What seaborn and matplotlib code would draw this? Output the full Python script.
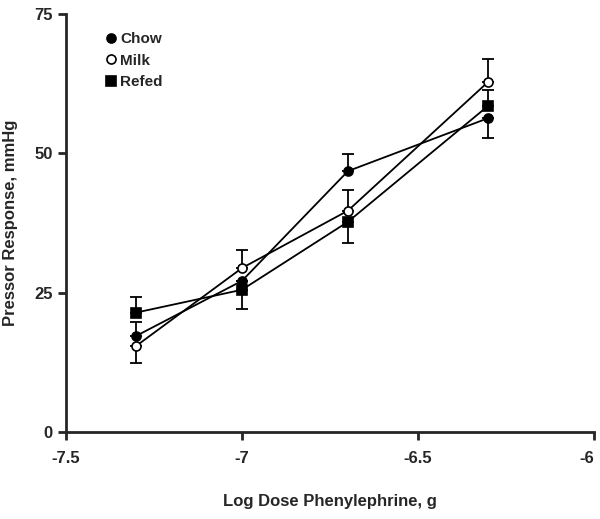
import numpy as np
import pandas as pd
from matplotlib import pyplot as plt
import seaborn as sns

# log dose of phenylephrine (5e-8, 1e-7, 2e-7, 5e-7 g)
log_dose = [-7.301, -7.0, -6.699, -6.301]

chow = [17.2, 27.1, 46.8, 56.3]
milk = [15.4, 29.4, 39.7, 62.8]
refed = [21.4, 25.5, 37.7, 58.5]

# error bars (only one side is drawn in the original)
chow_err_lo = [0, 0, 0, 3.5]
chow_err_hi = [2.6, 0, 3.1, 0]
milk_err_lo = [3.0, 0, 0, 0]
milk_err_hi = [0, 3.3, 3.7, 4.1]
refed_err_lo = [0, 3.5, 3.8, 0]
refed_err_hi = [2.8, 0, 0, 2.9]

sns.set_style('ticks')
plt.rcParams['font.family'] = ['Liberation Sans', 'DejaVu Sans']
plt.rcParams['font.weight'] = 'bold'

fig = plt.figure(figsize=(6, 5.19), dpi=100)
ax = fig.add_axes([0.11, 0.168, 0.88, 0.805])

groups = [
    ('Chow', chow, chow_err_lo, chow_err_hi, 'o', 'black'),
    ('Milk', milk, milk_err_lo, milk_err_hi, 'o', 'white'),
    ('Refed', refed, refed_err_lo, refed_err_hi, 's', 'black'),
]

for name, vals, lo, hi, mk, fc in groups:
    ax.errorbar(log_dose, vals, yerr=[lo, hi], fmt='none', ecolor='black',
                elinewidth=1.3, capsize=4, capthick=1.3, zorder=2)
    sns.lineplot(x=log_dose, y=vals, ax=ax, color='black', linewidth=1.3,
                 marker=mk, markersize=6.5, markerfacecolor=fc,
                 markeredgecolor='black', markeredgewidth=1.2,
                 label=name, zorder=3)

ax.set_xlim(-7.5, -6)
ax.set_ylim(0, 75)
ax.set_xticks([-7.5, -7, -6.5, -6])
ax.set_xticklabels(['-7.5', '-7', '-6.5', '-6'])
ax.set_yticks([0, 25, 50, 75])
sns.despine(ax=ax)
for s in ['left', 'bottom']:
    ax.spines[s].set_linewidth(2)
ax.tick_params(axis='both', width=2, length=6, labelsize=12, direction='out')
ax.tick_params(axis='x', pad=8)
for lbl in ax.get_xticklabels():
    if lbl.get_text() == '-6':
        lbl.set_horizontalalignment('right')

ax.set_xlabel('Log Dose Phenylephrine, g', fontsize=12, fontweight='bold', labelpad=20)
ax.set_ylabel('Pressor Response, mmHg', fontsize=12, fontweight='bold', labelpad=12)

leg = ax.legend(loc='upper left', bbox_to_anchor=(0.05, 0.99), frameon=False,
                handlelength=0.6, handletextpad=0.3, labelspacing=0.5,
                prop={'size': 11, 'weight': 'bold'})
for h in leg.get_lines():
    h.set_linestyle('none')

fig.savefig('out.png', dpi=100)
